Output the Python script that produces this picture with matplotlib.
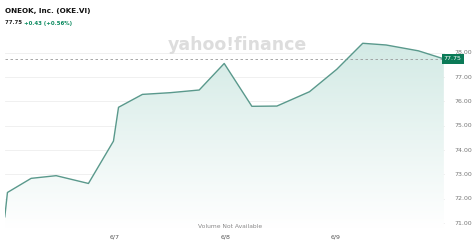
import matplotlib.pyplot as plt
import numpy as np
from matplotlib.colors import LinearSegmentedColormap

# price path, x in days (1 = 6/7)
days = [-0.000, 0.024, 0.239, 0.466, 0.759, 0.986, 1.032, 1.249, 1.501, 1.764,
        1.991, 2.242, 2.469, 2.765, 3.012, 3.248, 3.460, 3.753, 3.984]
prices = [71.26, 72.26, 72.84, 72.95, 72.63, 74.37, 75.76, 76.29, 76.36, 76.47,
          77.56, 75.80, 75.81, 76.40, 77.32, 78.39, 78.32, 78.08, 77.75]
tick_pos = [1, 2, 3]
tick_labels = ['6/7', '6/8', '6/9']
y_ticks = [71, 72, 73, 74, 75, 76, 77, 78]
last = 77.75

W, H = 474, 248
fig = plt.figure(figsize=(W / 100, H / 100), dpi=100)
ax = fig.add_axes([5 / W, 20 / H, 440 / W, 193 / H])

x0 = (5 - 115) / 110.2 + 1
x1 = (445 - 115) / 110.2 + 1
ax.set_xlim(x0, x1)
ylo, yhi = 70.80, 78.73
ax.set_ylim(ylo, yhi)

line_c = '#5a998c'
ax.plot(days, prices, color=line_c, lw=1.0, zorder=3)

# gradient fill under the line
poly = ax.fill_between(days, prices, ylo, color='none')
grad = np.linspace(1, 0, 256).reshape(-1, 1)
cmap = LinearSegmentedColormap.from_list('g', ['#ffffff', '#d3eae5'])
im = ax.imshow(grad, cmap=cmap, aspect='auto', extent=[days[0], days[-1], ylo, 78.4],
               origin='upper', zorder=1)
im.set_clip_path(poly.get_paths()[0], transform=ax.transData)

for yv in y_ticks:
    ax.axhline(yv, color='#eeeeee', lw=0.6, zorder=0)
ax.axhline(last, color='#999999', lw=0.6, ls=(0, (3, 3)), zorder=2)

for s in ax.spines.values():
    s.set_visible(False)
ax.set_xticks([])
ax.set_yticks([])

for yv in y_ticks:
    ax.text(x1 + 0.09, yv, f'{yv:.2f}', fontsize=4.5, color='#777777', va='center', ha='left')
ax.text(x1 - 0.01, last, f'{last:.2f}', fontsize=4.5, color='white', va='center', ha='left',
        bbox=dict(boxstyle='square,pad=0.35', fc='#0b7a57', ec='none'), zorder=5)

for p, lab in zip(tick_pos, tick_labels):
    fig.text((115 + (p - 1) * 110.2) / W, 1 - 237 / H, lab, fontsize=4.5, color='#555555',
             ha='center', va='center')
fig.text(230 / W, 1 - 227 / H, 'Volume Not Available', fontsize=4.3, color='#888888',
         ha='center', va='center')

# watermark
fig.text(237 / W, 1 - 45 / H, 'yahoo!finance', fontsize=12.5, fontweight='bold',
         color='#dddddd', ha='center', va='center', zorder=0)

fig.text(5 / W, 1 - 11 / H, 'ONEOK, Inc. (OKE.VI)', fontsize=5.2, fontweight='bold',
         color='#111111', ha='left', va='center')
t1 = fig.text(5 / W, 1 - 23 / H, '77.75 ', fontsize=3.9, fontweight='bold',
              color='#222222', ha='left', va='center')
fig.canvas.draw()
bb = t1.get_window_extent()
fig.text(bb.x1 / W, 1 - 23 / H, '+0.43 (+0.56%)', fontsize=3.9, fontweight='bold',
         color='#0b8a5f', ha='left', va='center')

fig.savefig('out.png', dpi=100)
